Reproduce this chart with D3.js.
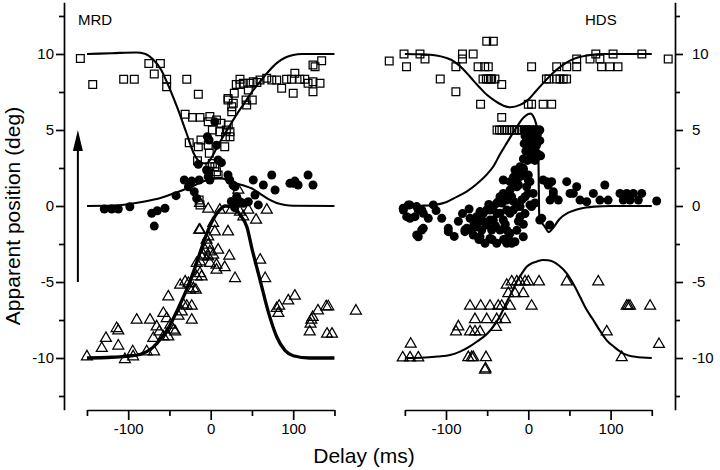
<!DOCTYPE html>
<html><head><meta charset="utf-8">
<script src="https://cdn.jsdelivr.net/npm/d3@7"></script>
<style>
html,body{margin:0;padding:0;background:#fff;}
svg{display:block;font-family:"Liberation Sans",Arial,sans-serif;}
</style></head><body>
<svg id="c" width="720" height="470"></svg>
<script>
const yTicksMajor = [-10,-5,0,5,10];
const yTicksMinor = [-12.5,-7.5,-2.5,2.5,7.5,12.5];
const xTicksMajor = [-100,0,100];
const xTicksMinor = [-150,-50,50,150];
const panelLabels = ["MRD","HDS"];
const xTitle = "Delay (ms)";
const yTitle = "Apparent position (deg)";

// MRD panel data [delay ms, position deg]
const mrdSquares = [[-158,9.7],[-143,8.0],[-105.5,8.33],[-92.6,8.33],[-75,9.38],[-61,9.38],[-68.4,8.68],[-53.4,8.33],[-53.4,7.85],[-29,8.33],[-15,7.35],[-31,6.03],[-22,5.83],[-13,5.83],[-26,4.16],[-15,3.9],[-11.8,4.34],[-16,2.98],[-14,0.4],[-13,0.07],[-3,5.55],[-1,5.88],[7,5.66],[12.5,5.44],[21.3,5.33],[23.4,4.89],[23.4,4.56],[2,5.0],[11,4.89],[19,5.0],[17,3.9],[-3,4.0],[-1.7,3.47],[2,2.8],[-1,2.59],[5,2.59],[7,2.26],[9,2.04],[18,4.56],[21,6.97],[21,7.08],[25.5,6.53],[25.5,6.2],[27.4,6.76],[28.6,7.41],[31,8.0],[35.5,8.33],[35.5,8.0],[39.5,8.07],[42.8,6.97],[43.6,6.65],[45.6,7.63],[47.6,8.07],[50.4,6.97],[51.6,8.18],[56,8.13],[59.8,8.29],[67.9,8.4],[74,8.29],[80,8.29],[86,7.74],[92,8.34],[98,8.34],[100,7.41],[102,8.73],[108,8.34],[114,8.34],[118,8.07],[124,8.18],[132.5,8.07],[124,9.28],[126.5,9.16],[134.5,9.56],[124,7.52]];
const mrdCircles = [[-129,-0.2],[-120,-0.2],[-112,-0.2],[-98,-0.05],[-71.5,-0.48],[-64.7,-0.31],[-55.4,-0.15],[-68.4,-1.32],[-42,0.68],[-32,1.71],[-23,1.64],[-14,1.71],[-27,1.27],[-20,0.94],[-17,0.5],[-15,2.74],[-3,2.26],[-1,1.71],[-4,4.56],[-2,4.34],[5,5.55],[7,4.0],[13,2.85],[9,3.03],[-3,1.93],[-5,2.37],[21,2.04],[23,1.71],[27,1.38],[29.5,1.27],[31.5,0.61],[35.5,0.28],[31.5,0.18],[39.5,0.18],[45.6,0.28],[51.6,1.71],[53.7,0.72],[57.7,0.07],[63.8,1.38],[74,2.04],[78,1.05],[96,1.49],[102,1.64],[106,1.38],[118,2.04],[124,1.38],[100.6,1.5],[25,0.3],[29,-0.1]];
const mrdTriangles = [[-150,-9.91],[-132,-9.36],[-127,-8.7],[-114,-8.05],[-112,-8.2],[-112,-9.2],[-104,-10.09],[-94,-9.91],[-94.5,-9.58],[-89.7,-7.5],[-73.6,-7.5],[-77.6,-9.58],[-68.7,-9.58],[-69.6,-8.7],[-65.5,-7.94],[-62.3,-8.27],[-57.4,-7.06],[-53.3,-7.39],[-51.4,-5.97],[-57.4,-8.6],[-51.4,-8.6],[-49,-7.83],[-45,-8.16],[-43,-8.27],[-39,-7.24],[-35,-6.95],[-33,-6.5],[-37,-5.2],[-31,-4.98],[-27,-5.09],[-29,-6.58],[-23,-6.58],[-25,-5.53],[-21,-5.42],[-18,-5.53],[-23,-7.5],[-17,-4.65],[-13,-4.43],[-11,-4.65],[-17,-3.77],[-13,-3.66],[-11,-3.34],[-9,-3.22],[-7,-2.89],[-5,-2.24],[-3,-2.02],[-3,-2.57],[-1,-3.0],[-3,-3.34],[-1,-3.77],[3,-3.22],[7,-3.88],[9,-2.89],[7,-4.21],[17,-4.04],[22.5,-3.29],[29.5,-4.76],[-13,-1.58],[5,-1.69],[21,-1.69],[-14,-1.58],[-13,0.18],[-3,-0.2],[3,-1.14],[11,-0.26],[25,-0.26],[35.5,-0.4],[45.6,-0.26],[39.5,-0.7],[55,-0.92],[68,-0.26],[33.5,1.05],[60,-3.55],[66,-4.76],[80,-6.73],[83,-6.58],[82,-7.06],[94,-6.23],[102,-5.92],[122,-7.5],[123.6,-7.32],[120,-8.27],[121,-7.76],[130,-6.89],[140,-6.62],[142.5,-6.62],[141,-8.42],[147,-8.42],[176,-6.9]];
const mrdSquareFit = [[-150,10],[-120,10.05],[-90,10.1],[-80,10.02],[-70,9.65],[-60,8.95],[-50,7.75],[-40,6.4],[-30,4.9],[-20,3.4],[-12,2.85],[-5,2.8],[0,3.1],[10,4.1],[20,5.0],[30,5.9],[40,6.7],[50,7.5],[60,8.2],[70,8.85],[80,9.4],[90,9.75],[100,9.93],[110,10],[150,10]];
const mrdCircleFit = [[-150,0],[-120,0.03],[-100,0.12],[-80,0.3],[-60,0.55],[-40,0.92],[-20,1.35],[-10,1.6],[0,1.78],[10,1.85],[20,1.72],[30,1.5],[40,1.35],[50,1.15],[60,0.8],[70,0.45],[80,0.2],[90,0.07],[100,0.02],[150,0]];
const mrdTriangleFit = [[-150,-10],[-120,-9.95],[-100,-9.88],[-85,-9.75],[-70,-9.3],[-60,-8.7],[-50,-7.9],[-40,-6.8],[-30,-5.6],[-20,-4.2],[-10,-2.6],[0,-1.2],[10,-0.3],[18,0.0],[28,-0.1],[36,-0.6],[44,-1.4],[50,-2.8],[60,-4.9],[70,-7.0],[80,-8.6],[90,-9.5],[100,-9.85],[120,-10],[150,-10]];

// HDS panel data
const hdsSquares = [[-169,9.54],[-151,10],[-131.6,10],[-148,9.16],[-125.5,9.67],[-107,8.36],[-88,7.52],[-88,9.16],[-80,10],[-67,10],[-80,9.67],[-61,9.16],[-53,9.16],[-48.6,9.16],[-50.5,10.84],[-42.5,10.84],[-55,8.36],[-51,8.36],[-48.6,8.36],[-46,8.36],[-44.5,8.36],[-40.5,8.36],[-32.3,8.0],[-58,6.69],[-32.3,5.83],[-38,5],[-35,5],[-32,5],[-29,5],[-26,5],[-23,5],[-20,5],[-17,5],[-14,5],[-11,5],[-8,5],[-5,5],[-2,5],[2,5],[6,5],[10,5],[0,6.69],[4,6.69],[18,6.69],[28.4,6.69],[4,9.16],[22,8.36],[25,8.36],[34.5,8.36],[38.5,8.36],[42.5,8.36],[46.5,8.36],[34.5,9.16],[46.7,9.16],[58.8,9.16],[58.8,9.67],[75,9.67],[82,10],[87,9.67],[89,9.16],[99,9.16],[109,9.16],[103,10],[138,10],[170,9.67]];
const hdsCircles = [[-152,-0.15],[-144,0.07],[-135.6,-0.04],[-129.5,-0.26],[-115.4,0.07],[-147.8,-0.7],[-137.7,-0.7],[-127.6,-0.48],[-121.5,-0.81],[-105.2,-0.81],[-127.6,-1.47],[-135.6,-1.91],[-97.2,-1.47],[-151.8,-0.26],[-145.8,0.07],[-133.7,-0.26],[-143.7,-0.81],[-129.5,-1.58],[-77,-1.58],[-68.8,-1.58],[-56.6,-1.58],[-44.5,-1.58],[-34.4,-1.58],[-26.2,-1.58],[-60.8,-0.92],[-46.5,-0.92],[-30.4,-0.92],[-58.7,-0.37],[-50.5,-0.26],[-42.5,-0.04],[-36.5,0.28],[-26.2,0.39],[-20.2,0.61],[-30.4,0.83],[-22.2,1.6],[-16.2,1.38],[-12.2,2.04],[-6.1,2.48],[0,1.71],[-2,1.27],[-4,0.61],[0,0.83],[4,-0.04],[-14,-0.04],[-22.2,-0.48],[-10,-0.7],[6,0.83],[16.3,-0.81],[22.3,1.6],[28.4,1.6],[30.4,0.94],[36.5,0.39],[46.7,1.6],[50.7,0.83],[58.8,1.27],[54.7,0.83],[62.8,0.39],[71,0.28],[79,0.83],[87,0.39],[93,1.38],[97,0.39],[111.4,0.83],[119.6,0.83],[127.6,0.83],[137.8,0.83],[115.4,0.39],[123.6,0.39],[133.7,0.39],[156,0.33],[-30.4,1.71],[-16.2,2.37],[-10,1.93],[-22.2,1.05],[-14,1.27],[-34.4,0.61],[-26.2,0.5],[-38.4,0.18],[-46.5,-0.26],[-54.7,-0.48],[-62.7,-0.7],[-70.8,-0.81],[-74.8,-1.47],[-62.7,-1.36],[-50.5,-1.25],[-42.5,-0.92],[-34.4,-0.48],[-26.2,-0.26],[-18.2,-0.26],[-10,-0.04],[2,0.07],[-58.7,-2.02],[-46.5,-2.13],[-38.4,-2.45],[-26.2,-2.45],[-16.2,-2.35],[-6.1,-2.02],[-133.7,-2.02],[-97.2,-1.69],[-77,-1.69],[-66.8,-1.91],[-52.6,-2.45],[-20.2,-2.45],[-22.2,-1.8],[14,-0.92],[26,-1.25],[18,1.71],[24.3,1.38],[30.4,0.72],[26.4,0.39],[-5,5.0],[0,5.0],[5,5.0],[10,5.0],[14,5.0],[-4,4.6],[1,4.6],[6,4.5],[11,4.7],[14,4.3],[-5,4.1],[0,4.0],[5,4.2],[10,4.0],[-3,3.6],[2,3.5],[7,3.6],[12,3.4],[15,3.3],[-6,3.1],[-1,3.0],[4,3.1],[-10,2.59],[-6,2.37],[-14,1.71],[-12,1.38],[0,2.04],[2,1.6],[-85,-1.0],[-80,-0.5],[-72,-0.2],[-66,-1.2],[-55,-1.0],[-48,0.1],[-40,-1.3],[-38,-0.5],[-32,0.2],[-28,-1.2],[-18,0.3],[-24,-2.0],[-12,-1.0],[-8,0.4],[-4,-0.5],[8,0.2],[-112,-0.3],[-90,-2.0],[-60,-2.2],[-44,-2.2],[-30,-2.2],[-14,-1.6],[-6,-1.2],[-2,4.4],[8,3.0],[-8,2.0],[-18,1.9]];
const hdsTriangles = [[-152.6,-9.98],[-143.7,-9.98],[-133.7,-9.98],[-142.9,-9.08],[-87.8,-8.27],[-85,-7.94],[-70.8,-8.27],[-64.8,-8.27],[-58.7,-8.27],[-64.8,-7.46],[-50.5,-7.46],[-70.8,-6.58],[-57.8,-6.58],[-46.5,-6.58],[-36.5,-6.58],[-32.3,-6.58],[-22.2,-6.58],[-38.4,-7.46],[-28.3,-7.46],[-39.2,-7.98],[-72.9,-9.96],[-68.8,-9.96],[-66.8,-9.96],[-51.4,-9.96],[-52.6,-10.79],[-52,-10.7],[-26.2,-5.2],[-20.2,-4.98],[-14,-4.98],[-10,-4.98],[-4,-4.98],[0,-4.98],[-24.3,-5.75],[-16.2,-5.75],[-6.1,-5.75],[4,-6.58],[13,-4.98],[46.7,-4.98],[85,-4.98],[95.3,-8.27],[113.5,-9.96],[119.6,-6.58],[121.5,-6.58],[123.6,-6.58],[148,-6.58],[158.8,-9.1]];
const hdsSquareFit = [[-150,10],[-130,9.98],[-110,9.88],[-90,9.5],[-80,9.05],[-70,8.45],[-60,7.85],[-50,7.3],[-40,6.9],[-30,6.6],[-22,6.5],[-10,6.65],[0,7.0],[10,7.6],[20,8.2],[30,8.75],[40,9.2],[50,9.55],[60,9.77],[75,9.93],[90,10],[150,10]];
const hdsCircleFit = [[-150,0],[-130,0.02],[-115,0.07],[-100,0.25],[-87,0.6],[-75,0.95],[-62.7,1.45],[-50,2.1],[-42.5,2.6],[-34.4,3.4],[-26,4.15],[-14,5.2],[-6,5.8],[0,6.05],[3,6.08],[6,5.9],[9,5.5],[11,4.9],[12,4.1],[12.6,2.0],[13.2,-0.5],[15,-0.95],[20,-1.35],[25,-1.72],[30,-1.45],[38,-0.85],[48,-0.45],[58,-0.25],[70,-0.1],[80,-0.04],[100,0],[150,0]];
const hdsTriangleFit = [[-150,-10],[-130,-9.98],[-110,-9.9],[-95,-9.8],[-83,-9.58],[-70,-9.2],[-62.7,-8.93],[-50,-8.4],[-42.5,-7.94],[-35,-7.3],[-26,-6.3],[-20,-5.65],[-14,-4.98],[-8,-4.45],[-2,-4.0],[5,-3.75],[10,-3.66],[18,-3.55],[24,-3.57],[30,-3.66],[38,-3.95],[46.7,-4.43],[55,-5.15],[62.8,-5.97],[70,-6.75],[79,-7.5],[87,-8.2],[95,-8.82],[105,-9.3],[115,-9.69],[130,-9.92],[150,-10]];

const arrowFrom = -5, arrowTo = 5, arrowDelay = -161;

const svg = d3.select("#c");
const y = d3.scaleLinear().domain([-13.4,13.4]).range([409.7,2.3]);
const xL = d3.scaleLinear().domain([-150,150]).range([86.95,334.45]);
const xR = d3.scaleLinear().domain([-150,150]).range([404.85,651.75]);
const AX = 410;
const fmt = d => String(d);

function styleAxis(g){
  g.attr("font-family",null).attr("font-size",null);
  g.selectAll("path,line").attr("stroke","#000").attr("stroke-width",1.7);
  g.selectAll("text").attr("fill","#000").style("font-size","15px");
}
function xAxis(x){
  const gMin = svg.append("g").attr("transform",`translate(0,${AX})`)
    .call(d3.axisBottom(x).tickValues(xTicksMinor).tickSize(6).tickSizeOuter(0).tickFormat(""));
  styleAxis(gMin);
  const gMaj = svg.append("g").attr("transform",`translate(0,${AX})`)
    .call(d3.axisBottom(x).tickValues(xTicksMajor).tickSize(10).tickPadding(3.5).tickFormat(fmt));
  gMaj.select(".domain").remove();
  styleAxis(gMaj);
}
xAxis(xL); xAxis(xR);

function yAxis(side, xpos){
  const mk = side==="left" ? d3.axisLeft : d3.axisRight;
  const gMin = svg.append("g").attr("transform",`translate(${xpos},0)`)
    .call(mk(y).tickValues(yTicksMinor).tickSize(5).tickSizeOuter(0).tickFormat(""));
  styleAxis(gMin);
  const gMaj = svg.append("g").attr("transform",`translate(${xpos},0)`)
    .call(mk(y).tickValues(yTicksMajor).tickSize(8).tickPadding(side==="left"?2:9).tickFormat(fmt));
  gMaj.select(".domain").remove();
  styleAxis(gMaj);
}
yAxis("left",64); yAxis("right",675);

function fit(data, x, w){
  svg.append("path").datum(data)
    .attr("d", d3.line().x(d=>x(d[0])).y(d=>y(d[1])).curve(d3.curveMonotoneX))
    .attr("fill","none").attr("stroke","#000").attr("stroke-width",w)
    .attr("stroke-linejoin","round");
}
fit(mrdSquareFit, xL, 2.1);
fit(mrdCircleFit, xL, 2.1);
fit(mrdTriangleFit, xL, 3.3);
fit(hdsSquareFit, xR, 2.1);
fit(hdsCircleFit, xR, 2.1);
fit(hdsTriangleFit, xR, 2.1);

const sq = d3.symbol(d3.symbolSquare, 60);
const tri = d3.symbol(d3.symbolTriangle, 52);
function openMarks(data, x, sym){
  svg.append("g").selectAll("path").data(data).join("path")
    .attr("transform", d=>`translate(${x(d[0])},${y(d[1])})`)
    .attr("d", sym)
    .attr("fill","none").attr("stroke","#000").attr("stroke-width",1.25);
}
function dots(data, x){
  svg.append("g").selectAll("circle").data(data).join("circle")
    .attr("cx", d=>x(d[0])).attr("cy", d=>y(d[1])).attr("r",4.5).attr("fill","#000");
}
openMarks(mrdSquares, xL, sq);
openMarks(mrdTriangles, xL, tri);
dots(mrdCircles, xL);
openMarks(hdsSquares, xR, sq);
openMarks(hdsTriangles, xR, tri);
dots(hdsCircles, xR);

// arrow
const ax = xL(arrowDelay);
svg.append("line").attr("x1",ax).attr("x2",ax).attr("y1",y(arrowFrom)).attr("y2",y(arrowTo)+18)
  .attr("stroke","#000").attr("stroke-width",2);
svg.append("path").attr("d",`M${ax},${y(arrowTo)} L${ax+5},${y(arrowTo)+21} L${ax-5},${y(arrowTo)+21} Z`).attr("fill","#000");

// labels
svg.append("text").attr("x",78).attr("y",25).attr("font-size",15).text(panelLabels[0]);
svg.append("text").attr("x",585).attr("y",25).attr("font-size",15).text(panelLabels[1]);
svg.append("text").attr("x",364).attr("y",463).attr("text-anchor","middle").attr("font-size",21).text(xTitle);
svg.append("text").attr("transform","translate(20,216) rotate(-90)").attr("text-anchor","middle").attr("font-size",21).text(yTitle);
</script>
</body></html>
